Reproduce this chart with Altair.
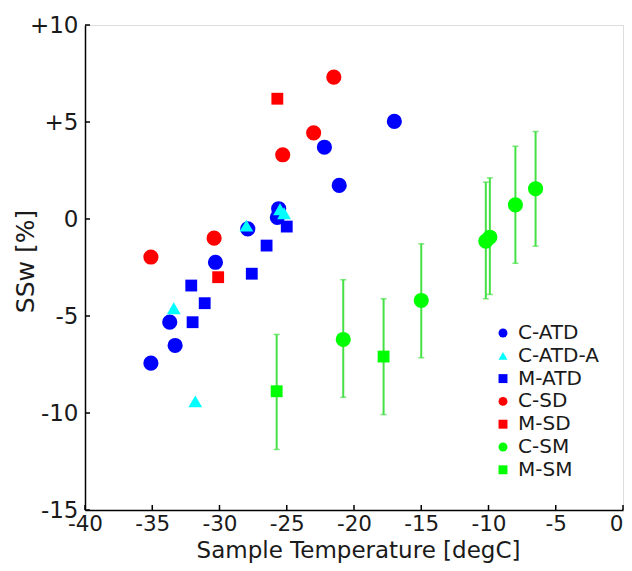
import altair as alt
import pandas as pd

series_names = ["C-ATD", "C-ATD-A", "M-ATD", "C-SD", "M-SD", "C-SM", "M-SM"]
series_colors = ["#0000ff", "#00ffff", "#0000ff", "#ff0000", "#ff0000", "#00ff00", "#00ff00"]
series_shapes = ["circle", "triangle-up", "square", "circle", "square", "circle", "square"]

c_atd_x = [-35.1, -33.3, -33.7, -30.3, -27.9, -25.7, -25.6, -22.2, -21.1, -17.0]
c_atd_y = [-7.43, -6.52, -5.32, -2.23, -0.51, 0.08, 0.53, 3.70, 1.73, 5.03]

c_atd_a_x = [-33.4, -31.8, -28.0, -25.5, -25.2]
c_atd_a_y = [-4.6, -9.4, -0.34, 0.5, 0.3]

m_atd_x = [-32.1, -31.1, -32.0, -27.6, -26.5, -25.0]
m_atd_y = [-3.43, -4.34, -5.32, -2.82, -1.37, -0.39]

c_sd_x = [-35.1, -30.4, -25.3, -23.0, -21.5]
c_sd_y = [-1.96, -0.99, 3.31, 4.44, 7.31]

m_sd_x = [-25.7, -30.1]
m_sd_y = [6.2, -3.0]

c_sm_x = [-20.8, -15.0, -10.2, -9.9, -8.0, -6.5]
c_sm_y = [-6.21, -4.20, -1.14, -0.94, 0.73, 1.56]
c_sm_lo = [-9.19, -7.15, -4.11, -3.89, -2.28, -1.40]
c_sm_hi = [-3.13, -1.28, 1.90, 2.12, 3.75, 4.51]

m_sm_x = [-25.75, -17.8]
m_sm_y = [-8.88, -7.09]
m_sm_lo = [-11.88, -10.08]
m_sm_hi = [-5.95, -4.11]

x_ticks = [-40, -35, -30, -25, -20, -15, -10, -5, 0]
y_ticks = [-15, -10, -5, 0, 5, 10]

rows = []
for name, xs, ys in [
    ("C-ATD", c_atd_x, c_atd_y),
    ("C-ATD-A", c_atd_a_x, c_atd_a_y),
    ("M-ATD", m_atd_x, m_atd_y),
    ("C-SD", c_sd_x, c_sd_y),
    ("M-SD", m_sd_x, m_sd_y),
    ("C-SM", c_sm_x, c_sm_y),
    ("M-SM", m_sm_x, m_sm_y),
]:
    k = series_names.index(name)
    for xv, yv in zip(xs, ys):
        rows.append({"series": name, "order": k, "shp": series_shapes[k], "T": xv, "S": yv})
pts = pd.DataFrame(rows)

err = pd.DataFrame({
    "T": c_sm_x + m_sm_x,
    "lo": c_sm_lo + m_sm_lo,
    "hi": c_sm_hi + m_sm_hi,
})

FONT = "DejaVu Sans"
W, H = 538, 485
TXT = "#1a1a1a"

xscale = alt.Scale(domain=[-40, 0], nice=False, zero=False)
yscale = alt.Scale(domain=[-15, 10], nice=False, zero=False)

xaxis = alt.Axis(values=x_ticks, labelExpr="'' + datum.value", title="Sample Temperature [degC]",
                 grid=False, ticks=False, domainColor="#000000", domainWidth=1.5,
                 labelFontSize=21.5, titleFontSize=23, labelPadding=3,
                 labelAlign=alt.expr("datum.value == 0 ? 'right' : 'center'"),
                 titleX=273, titleY=47, titleBaseline="alphabetic", titleAlign="center",
                 labelColor=TXT, titleColor=TXT, labelFont=FONT, titleFont=FONT,
                 titleFontWeight="normal")
yaxis = alt.Axis(values=y_ticks, labelExpr="datum.value > 0 ? '+' + datum.value : '' + datum.value",
                 title="SSw [%]", grid=False, ticks=False, domainColor="#000000", domainWidth=1.5,
                 labelFontSize=23, titleFontSize=25, labelPadding=7,
                 titleX=-52, titleY=236, titleBaseline="alphabetic", titleAlign="center",
                 labelColor=TXT, titleColor=TXT, labelFont=FONT, titleFont=FONT,
                 titleFontWeight="normal")

base_err = alt.Chart(err)
err_rule = base_err.mark_rule(color="#44e044", strokeWidth=2).encode(
    x=alt.X("T:Q", scale=xscale, axis=xaxis),
    y=alt.Y("lo:Q", scale=yscale, axis=yaxis),
    y2="hi:Q",
)
cap_lo = base_err.mark_tick(color="#44e044", orient="horizontal", size=6, thickness=1.5).encode(
    x=alt.X("T:Q", scale=xscale), y=alt.Y("lo:Q", scale=yscale))
cap_hi = base_err.mark_tick(color="#44e044", orient="horizontal", size=6, thickness=1.5).encode(
    x=alt.X("T:Q", scale=xscale), y=alt.Y("hi:Q", scale=yscale))

legend = alt.Legend(title=None, orient="none", legendX=408, legendY=298,
                    labelFontSize=20, labelFont=FONT, labelColor=TXT,
                    symbolSize=80, rowPadding=2.8, labelOffset=5,
                    symbolStrokeWidth=0)

def pts_layer(shape, size):
    return alt.Chart(pts).transform_filter(alt.datum.shp == shape).mark_point(
        filled=True, opacity=1, strokeWidth=0, size=size).encode(
        x=alt.X("T:Q", scale=xscale),
        y=alt.Y("S:Q", scale=yscale),
        color=alt.Color("series:N", scale=alt.Scale(domain=series_names, range=series_colors),
                        legend=legend),
        shape=alt.Shape("series:N", scale=alt.Scale(domain=series_names, range=series_shapes),
                        legend=legend),
        order=alt.Order("order:Q"),
    )

circles = pts_layer("circle", 230)
squares = pts_layer("square", 140)
triangles = pts_layer("triangle-up", 190)

ytick_df = pd.DataFrame({"v": y_ticks})
xtick_df = pd.DataFrame({"v": x_ticks})
yticks = alt.Chart(ytick_df).mark_rule(color="#000000", strokeWidth=1.5).encode(
    y=alt.Y("v:Q", scale=yscale), x=alt.value(0), x2=alt.value(5))
xticks = alt.Chart(xtick_df).mark_rule(color="#000000", strokeWidth=1.5).encode(
    x=alt.X("v:Q", scale=xscale), y=alt.value(H), y2=alt.value(H - 5))

chart = alt.layer(err_rule, cap_lo, cap_hi, circles, squares, triangles, yticks, xticks).properties(
    width=W, height=H,
    autosize=alt.AutoSizeParams(type="none"),
    padding={"left": 77, "top": 17, "right": 1, "bottom": 53},
).configure_view(stroke=None).configure(font=FONT, background="white")

chart.save("out.html", embed_options={"renderer": "svg", "actions": False})
